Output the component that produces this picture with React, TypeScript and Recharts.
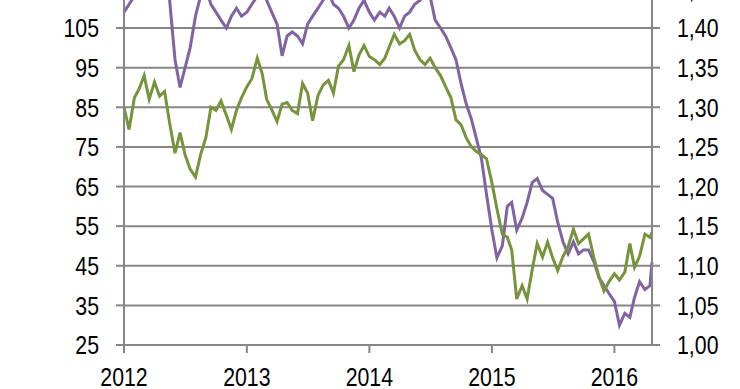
import React from "react";
import { CartesianGrid, Line, LineChart, XAxis, YAxis } from "recharts";

// semi-monthly observations, Jan 2012 - Apr 2016
const dates = [
  "2012-01-01", "2012-01-16", "2012-02-01", "2012-02-16", "2012-03-01", "2012-03-16",
  "2012-04-01", "2012-04-16", "2012-05-01", "2012-05-16", "2012-06-01", "2012-06-16",
  "2012-07-01", "2012-07-16", "2012-08-01", "2012-08-16", "2012-09-01", "2012-09-16",
  "2012-10-01", "2012-10-16", "2012-11-01", "2012-11-16", "2012-12-01", "2012-12-16",
  "2013-01-01", "2013-01-16", "2013-02-01", "2013-02-16", "2013-03-01", "2013-03-16",
  "2013-04-01", "2013-04-16", "2013-05-01", "2013-05-16", "2013-06-01", "2013-06-16",
  "2013-07-01", "2013-07-16", "2013-08-01", "2013-08-16", "2013-09-01", "2013-09-16",
  "2013-10-01", "2013-10-16", "2013-11-01", "2013-11-16", "2013-12-01", "2013-12-16",
  "2014-01-01", "2014-01-16", "2014-02-01", "2014-02-16", "2014-03-01", "2014-03-16",
  "2014-04-01", "2014-04-16", "2014-05-01", "2014-05-16", "2014-06-01", "2014-06-16",
  "2014-07-01", "2014-07-16", "2014-08-01", "2014-08-16", "2014-09-01", "2014-09-16",
  "2014-10-01", "2014-10-16", "2014-11-01", "2014-11-16", "2014-12-01", "2014-12-16",
  "2015-01-01", "2015-01-16", "2015-02-01", "2015-02-16", "2015-03-01", "2015-03-16",
  "2015-04-01", "2015-04-16", "2015-05-01", "2015-05-16", "2015-06-01", "2015-06-16",
  "2015-07-01", "2015-07-16", "2015-08-01", "2015-08-16", "2015-09-01", "2015-09-16",
  "2015-10-01", "2015-10-16", "2015-11-01", "2015-11-16", "2015-12-01", "2015-12-16",
  "2016-01-01", "2016-01-16", "2016-02-01", "2016-02-16", "2016-03-01", "2016-03-16",
  "2016-04-01", "2016-04-16", "2016-04-22",
];

// oil price, left axis
const brent = [
  109, 111, 113, 118, 121, 124, 125, 122, 119, 112, 97, 90,
  95, 100, 108, 113, 115, 111, 109, 107, 105, 108, 110, 108,
  109, 111, 113, 116, 112, 109, 106, 98, 103, 104, 103, 101,
  106, 108, 110, 112, 114, 111, 110, 108, 105, 107, 110, 112,
  109, 107, 109, 108, 110, 108, 105, 108, 109, 111, 112, 114,
  113, 107, 105, 103, 100, 97, 91, 86, 82, 77, 72, 63,
  54, 47, 50, 60, 61, 54, 57, 61, 66, 67, 64, 63,
  62, 56, 51, 48, 51, 48, 49, 49, 46, 42, 40, 38,
  36, 30, 33, 32, 37, 41, 39, 40, 46,
];

// exchange rate, right axis
const eurusd = [
  1.300, 1.272, 1.312, 1.324, 1.340, 1.310, 1.332, 1.314, 1.320, 1.280, 1.242, 1.268,
  1.240, 1.222, 1.212, 1.240, 1.262, 1.300, 1.296, 1.308, 1.290, 1.272, 1.296, 1.312,
  1.326, 1.336, 1.362, 1.342, 1.310, 1.297, 1.282, 1.304, 1.306, 1.296, 1.292, 1.330,
  1.318, 1.283, 1.315, 1.328, 1.334, 1.318, 1.352, 1.360, 1.378, 1.345, 1.366, 1.378,
  1.364, 1.360, 1.354, 1.362, 1.376, 1.392, 1.380, 1.384, 1.392, 1.372, 1.360, 1.354,
  1.362, 1.350, 1.340, 1.326, 1.312, 1.284, 1.278, 1.262, 1.250, 1.244, 1.240, 1.235,
  1.205, 1.172, 1.140, 1.136, 1.120, 1.058, 1.075, 1.058, 1.095, 1.128, 1.111, 1.130,
  1.110, 1.094, 1.112, 1.124, 1.146, 1.128, 1.134, 1.140, 1.110, 1.086, 1.068, 1.080,
  1.090, 1.082, 1.092, 1.128, 1.098, 1.112, 1.140, 1.136, 1.142,
];

const yearTicks = ["2012-01-01", "2013-01-01", "2014-01-01", "2015-01-01", "2016-01-01"];
const leftTicks = [25, 35, 45, 55, 65, 75, 85, 95, 105, 115];
const rightTicks = [1.0, 1.05, 1.1, 1.15, 1.2, 1.25, 1.3, 1.35, 1.4, 1.45];

const data = dates.map((d, i) => ({
  t: Date.parse(d),
  brent: brent[i],
  eurusd: eurusd[i],
}));

const GREY = "#868686";
const axisStyle = { stroke: GREY, strokeWidth: 2 };

// narrow-looking labels: Arial-like glyphs squeezed horizontally
const makeTick =
  (anchor: "start" | "middle" | "end", dy: string, fmt: (v: any) => string) =>
  (props: any) => {
    const { x, y, payload } = props;
    return (
      <g transform={`translate(${x},${y})`}>
        <text
          transform="scale(0.82,1)"
          textAnchor={anchor}
          dy={dy}
          fontFamily="'Liberation Sans', Arial, sans-serif"
          fontSize={26}
          fill="#000"
        >
          {fmt(payload.value)}
        </text>
      </g>
    );
  };

const yearTick = makeTick("middle", "0.72em", (v) => String(new Date(v).getUTCFullYear()));
const leftTick = makeTick("end", "0.36em", (v) => String(v));
const rightTick = makeTick("start", "0.36em", (v) => v.toFixed(2).replace(".", ","));

export default function App() {
  return (
    <div
      style={{
        position: "fixed",
        left: 0,
        top: 0,
        width: 740,
        height: 389,
        overflow: "hidden",
        background: "#fff",
      }}
    >
      <div style={{ position: "absolute", left: 0, top: -40 }}>
        <LineChart
          width={740}
          height={440}
          data={data}
          margin={{ top: 28.4, right: 0, bottom: 0, left: 0 }}
        >
          <CartesianGrid yAxisId="left" vertical={false} stroke={GREY} strokeWidth={2} />
          <XAxis
            dataKey="t"
            type="number"
            domain={[Date.parse(dates[0]), Date.parse(dates[dates.length - 1])]}
            ticks={yearTicks.map((d) => Date.parse(d))}
            height={55}
            tickSize={8}
            tickMargin={14}
            tick={yearTick}
            axisLine={axisStyle}
            tickLine={axisStyle}
          />
          <YAxis
            yAxisId="left"
            orientation="left"
            domain={[25, 115]}
            allowDataOverflow
            ticks={leftTicks}
            width={124}
            tickSize={8}
            tickMargin={17}
            tick={leftTick}
            axisLine={axisStyle}
            tickLine={axisStyle}
          />
          <YAxis
            yAxisId="right"
            orientation="right"
            domain={[1.0, 1.45]}
            allowDataOverflow
            ticks={rightTicks}
            width={88}
            tickSize={8}
            tickMargin={17}
            tick={rightTick}
            axisLine={axisStyle}
            tickLine={axisStyle}
          />
          <Line
            yAxisId="left"
            dataKey="brent"
            type="linear"
            stroke="#8064A2"
            strokeWidth={3}
            dot={false}
            isAnimationActive={false}
          />
          <Line
            yAxisId="right"
            dataKey="eurusd"
            type="linear"
            stroke="#77933C"
            strokeWidth={3}
            dot={false}
            isAnimationActive={false}
          />
        </LineChart>
      </div>
    </div>
  );
}
